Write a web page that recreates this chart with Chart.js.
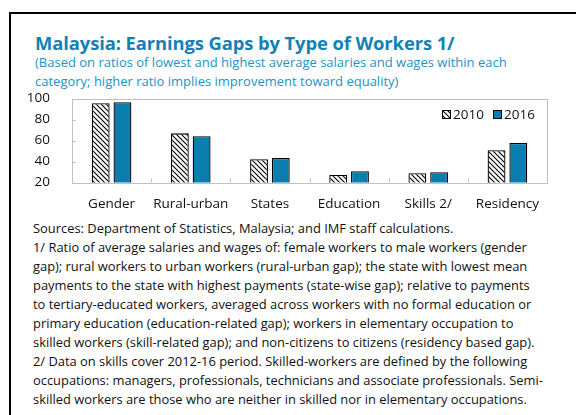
<!DOCTYPE html>
<html><head><meta charset="utf-8">
<script src="https://cdn.jsdelivr.net/npm/chart.js@4.4.0/dist/chart.umd.min.js"></script>
<style>
html,body{margin:0;padding:0;background:#fff;width:576px;height:415px;overflow:hidden;font-family:"Open Sans",sans-serif;}
#frame{position:absolute;left:9px;top:12px;width:620px;height:460px;border-left:2px solid #000;border-top:2px solid #000;}
#title{position:absolute;left:35px;top:30px;font-size:18.4px;font-weight:bold;color:#1282b6;white-space:nowrap;letter-spacing:-0.1px;}
#sub{position:absolute;left:35px;top:53px;font-size:13px;line-height:19px;color:#1c93c9;white-space:nowrap;}
#wrap{position:absolute;left:20px;top:88px;width:540px;height:130px;}
#c{display:block;}
#notes{position:absolute;left:33px;top:219px;font-size:12.9px;line-height:19px;color:#111;white-space:nowrap;}
</style></head><body>
<div id="frame"></div>
<div id="title">Malaysia: Earnings Gaps by Type of Workers 1/</div>
<div id="sub">(Based on ratios of lowest and highest average salaries and wages within each<br>category; higher ratio implies improvement toward equality)</div>
<div id="wrap"><canvas id="c" width="540" height="130" style="width:540px;height:130px"></canvas></div>
<div id="notes">Sources: Department of Statistics, Malaysia; and IMF staff calculations.<br>
1/ Ratio of average salaries and wages of: female workers to male workers (gender<br>
gap); rural workers to urban workers (rural-urban gap); the state with lowest mean<br>
payments to the state with highest payments (state-wise gap); relative to payments<br>
to tertiary-educated workers, averaged across workers with no formal education or<br>
primary education (education-related gap); workers in elementary occupation to<br>
skilled workers (skill-related gap); and non-citizens to citizens (residency based gap).<br>
2/ Data on skills cover 2012-16 period. Skilled-workers are defined by the following<br>
occupations: managers, professionals, technicians and associate professionals. Semi-<br>
skilled workers are those who are neither in skilled nor in elementary occupations.</div>
<script>
const categories = ["Gender","Rural-urban","States","Education","Skills 2/","Residency"];
const values2010 = [95.5, 66.8, 42.2, 27.2, 28.8, 50.7];
const values2016 = [96.5, 64.0, 43.4, 30.7, 29.7, 57.6];
const seriesLabels = ["2010","2016"];
const yTicks = [20,40,60,80,100];

const BLUE = "#0b7eb0";
function hatch(){
  const s=5, p=document.createElement('canvas'); p.width=s; p.height=s;
  const g=p.getContext('2d'); g.fillStyle='#fff'; g.fillRect(0,0,s,s);
  g.strokeStyle='#000'; g.lineWidth=1.1;
  g.beginPath(); g.moveTo(-1,-1); g.lineTo(s+1,s+1);
  g.moveTo(-1,s-1); g.lineTo(1,s+1); g.moveTo(s-1,-1); g.lineTo(s+1,1); g.stroke();
  return g.createPattern(p,'repeat');
}
const ctx=document.getElementById('c').getContext('2d');
const pat=hatch();
const FONT='"Open Sans", sans-serif';

// chart area target (canvas coords)
const AREA={left:52,top:10.5,right:527,bottom:94.5};

const deco={
  id:'deco',
  afterDatasetsDraw(chart){
    const c=chart.ctx, a=chart.chartArea, x=chart.scales.x, y=chart.scales.y;
    c.save();
    c.strokeStyle='#c0c0c0'; c.lineWidth=1;
    c.strokeRect(Math.round(a.left)+0.5,Math.round(a.top)+0.5,Math.round(a.right-a.left),Math.round(a.bottom-a.top));
    c.beginPath();
    yTicks.forEach(v=>{ if(v>20&&v<100){const py=Math.round(y.getPixelForValue(v))+0.5; c.moveTo(a.left,py); c.lineTo(a.left+4,py);} });
    for(let i=1;i<categories.length;i++){
      const px=Math.round((x.getPixelForValue(i-1)+x.getPixelForValue(i))/2)+0.5;
      c.moveTo(px,a.bottom); c.lineTo(px,a.bottom-4);
    }
    c.stroke();
    // legend
    c.font='13.5px '+FONT; c.textBaseline='middle'; c.fillStyle='#111';
    const ly=a.top+16;
    let lx=a.right-105;
    chart.data.datasets.forEach((ds,i)=>{
      c.fillStyle=ds.backgroundColor; c.fillRect(lx,ly-4.5,9,9);
      c.strokeStyle='#000'; c.lineWidth=1; c.strokeRect(lx+0.5,ly-4,8,8);
      c.fillStyle='#111'; c.fillText(ds.label,lx+11,ly+0.5);
      lx+=51;
    });
    c.restore();
  }
};

new Chart(ctx,{
  type:'bar',
  data:{labels:categories,datasets:[
    {label:seriesLabels[0],data:values2010,backgroundColor:pat,borderColor:'#000',borderWidth:1.3},
    {label:seriesLabels[1],data:values2016,backgroundColor:BLUE,borderColor:'#000',borderWidth:1.3}
  ]},
  options:{
    responsive:false,animation:false,
    layout:{padding:{top:AREA.top,right:540-AREA.right,left:0,bottom:0}},
    categoryPercentage:0.55,barPercentage:0.82,
    plugins:{legend:{display:false},tooltip:{enabled:false}},
    scales:{
      y:{min:20,max:100,
        afterBuildTicks(s){s.ticks=yTicks.map(v=>({value:v}));},
        afterFit(s){s.width=AREA.left; s.paddingTop=0; s.paddingBottom=0;},
        grid:{display:false},border:{display:false},
        ticks:{color:'#111',font:{family:FONT,size:13.5},padding:14,autoSkip:false}},
      x:{grid:{display:false},border:{display:false},
        afterFit(s){s.height=130-AREA.bottom; s.paddingLeft=0; s.paddingRight=0;},
        ticks:{color:'#111',font:{family:FONT,size:13.5},padding:6,maxRotation:0,autoSkip:false}}
    }
  },
  plugins:[deco]
});
</script>
</body></html>
